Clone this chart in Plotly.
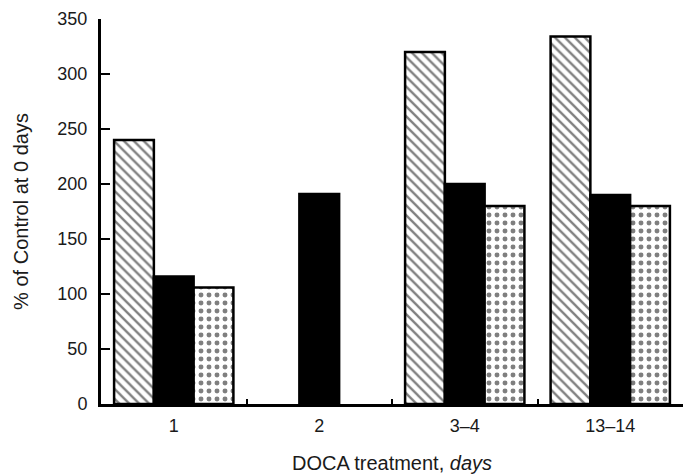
import plotly.graph_objects as go

categories = ["1", "2", "3\u20134", "13\u201314"]
hatched_vals = [240, None, 320, 334]
solid_vals = [116, 191, 200, 190]
dotted_vals = [106, None, 180, 180]
y_ticks = [0, 50, 100, 150, 200, 250, 300, 350]

fig = go.Figure()
fig.add_trace(go.Bar(
    x=categories, y=hatched_vals, name="hatched",
    marker=dict(color="white", line=dict(color="black", width=2.5),
                pattern=dict(shape="\\", size=7, solidity=0.33, fgcolor="black", bgcolor="white")),
))
fig.add_trace(go.Bar(
    x=categories, y=solid_vals, name="solid",
    marker=dict(color="black", line=dict(color="black", width=2.5)),
))
fig.add_trace(go.Bar(
    x=categories, y=dotted_vals, name="dotted",
    marker=dict(color="white", line=dict(color="black", width=2.5),
                pattern=dict(shape=".", size=8, solidity=0.3, fgcolor="black", bgcolor="white")),
))

font_family = "Liberation Sans, Arial, sans-serif"
fig.update_layout(
    width=691, height=475,
    margin=dict(l=93, r=16, t=11, b=79, autoexpand=False),
    barmode="group", bargap=0.18, bargroupgap=0,
    plot_bgcolor="white", paper_bgcolor="white",
    showlegend=False,
    font=dict(family=font_family, size=18, color="#1a1a1a"),
    xaxis=dict(
        type="category", showline=True, linecolor="black", linewidth=3,
        ticks="inside", tickson="boundaries", ticklen=5, tickwidth=1.5, tickcolor="black",
        showgrid=False, tickfont=dict(size=18), ticklabelstandoff=3, automargin=False,
        title=dict(text="DOCA treatment, <i>days</i>", standoff=22, font=dict(size=20)),
    ),
    yaxis=dict(
        range=[0, 350], tickvals=y_ticks, showline=True, linecolor="black", linewidth=3,
        ticks="inside", ticklen=9, tickwidth=2, tickcolor="black",
        showgrid=False, zeroline=False, tickfont=dict(size=18), ticklabelstandoff=7,
        automargin=False,
        title=dict(text="% of Control at 0 days", standoff=24, font=dict(size=20)),
    ),
)
fig.write_html("out.html")
